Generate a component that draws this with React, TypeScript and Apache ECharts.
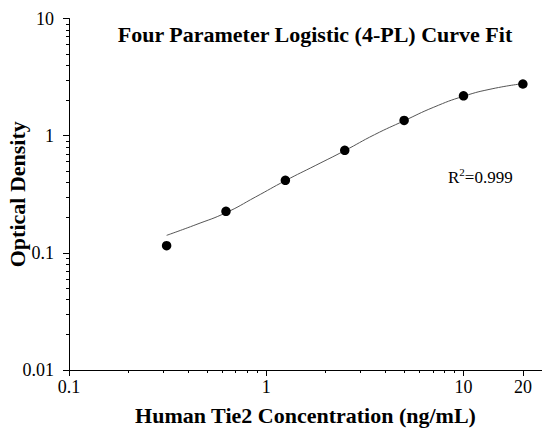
import React, { useEffect, useRef } from "react";
import * as echarts from "echarts";

const concentrations = [0.3125, 0.625, 1.25, 2.5, 5, 10, 20];
const opticalDensity = [0.115, 0.226, 0.416, 0.749, 1.35, 2.19, 2.76];

const curveX = [0.3125, 0.44, 0.625, 0.88, 1.25, 1.77, 2.5, 3.54, 5, 7.07, 10, 14.1, 20];
const curveY = [0.141, 0.174, 0.22, 0.299, 0.413, 0.555, 0.745, 1.02, 1.34, 1.75, 2.17, 2.52, 2.78];

const xMajorTicks = [0.1, 1, 10, 20];
const xMinorTicks = [0.2, 0.3, 0.4, 0.5, 0.6, 0.7, 0.8, 0.9, 2, 3, 4, 5, 6, 7, 8, 9];
const yMajorTicks = [0.01, 0.1, 1, 10];
const yMinorTicks = [
  0.02, 0.03, 0.04, 0.05, 0.06, 0.07, 0.08, 0.09,
  0.2, 0.3, 0.4, 0.5, 0.6, 0.7, 0.8, 0.9,
  2, 3, 4, 5, 6, 7, 8, 9,
];

const titleText = "Four Parameter Logistic (4-PL) Curve Fit";
const xName = "Human Tie2 Concentration (ng/mL)";
const yName = "Optical Density";

const SERIF = "'Liberation Serif', 'Times New Roman', serif";

export default function App() {
  const ref = useRef<HTMLDivElement>(null);
  useEffect(() => {
    document.body.style.margin = "0";
    if (!ref.current) return;
    const chart = echarts.init(ref.current, null, { renderer: "svg" });
    const fmt = (v: number) => {
      const r = Math.round(v * 1000) / 1000;
      return String(r);
    };
    const axisCommon = {
      type: "log" as const,
      logBase: 10,
      splitLine: { show: false },
      minorSplitLine: { show: false },
    };
    chart.setOption({
      animation: false,
      backgroundColor: "#ffffff",
      grid: {
        left: 69,
        right: 0,
        top: 18.5,
        bottom: 58,
        containLabel: false,
        outerBoundsMode: "none",
      },
      xAxis: [
        {
          ...axisCommon,
          min: 0.1,
          max: 25,
          position: "bottom",
          axisLine: { show: true, lineStyle: { color: "#000", width: 1 } },
          axisTick: {
            show: true,
            inside: false,
            length: 6,
            customValues: xMajorTicks,
            lineStyle: { color: "#000", width: 1 },
          },
          axisLabel: {
            show: true,
            customValues: xMajorTicks,
            formatter: fmt,
            color: "#000",
            fontFamily: SERIF,
            fontSize: 18,
            margin: 8,
          },
          name: xName,
          nameLocation: "middle",
          nameGap: 34,
          nameMoveOverlap: false,
          nameTextStyle: {
            color: "#000",
            fontFamily: SERIF,
            fontWeight: "bold",
            fontSize: 22,
          },
        },
        {
          ...axisCommon,
          min: 0.1,
          max: 25,
          position: "bottom",
          offset: 0,
          axisLine: { show: false },
          axisTick: {
            show: true,
            inside: false,
            length: 3,
            customValues: xMinorTicks,
            lineStyle: { color: "#000", width: 1 },
          },
          axisLabel: { show: false },
        },
      ],
      yAxis: [
        {
          ...axisCommon,
          min: 0.01,
          max: 10,
          position: "left",
          axisLine: { show: true, lineStyle: { color: "#000", width: 1 } },
          axisTick: {
            show: true,
            inside: false,
            length: 6,
            customValues: yMajorTicks,
            lineStyle: { color: "#000", width: 1 },
          },
          axisLabel: {
            show: true,
            customValues: yMajorTicks,
            formatter: fmt,
            color: "#000",
            fontFamily: SERIF,
            fontSize: 18,
            margin: 15,
          },
          name: yName,
          nameLocation: "middle",
          nameGap: 41,
          nameMoveOverlap: false,
          nameTextStyle: {
            color: "#000",
            fontFamily: SERIF,
            fontWeight: "bold",
            fontSize: 22,
          },
        },
        {
          ...axisCommon,
          min: 0.01,
          max: 10,
          position: "left",
          offset: 0,
          axisLine: { show: false },
          axisTick: {
            show: true,
            inside: false,
            length: 3,
            customValues: yMinorTicks,
            lineStyle: { color: "#000", width: 1 },
          },
          axisLabel: { show: false },
        },
      ],
      graphic: [
        {
          type: "text",
          x: 315,
          y: 34,
          style: {
            text: titleText,
            textAlign: "center",
            textVerticalAlign: "middle",
            fontFamily: SERIF,
            fontWeight: "bold",
            fontSize: 22,
            fill: "#000",
          },
        },
        {
          type: "text",
          x: 448,
          y: 176,
          style: {
            text: "{r|R}{s|2}{r|=0.999}",
            textVerticalAlign: "middle",
            rich: {
              r: { fontFamily: SERIF, fontSize: 17, fill: "#000", lineHeight: 20, verticalAlign: "bottom" },
              s: { fontFamily: SERIF, fontSize: 11, fill: "#000", lineHeight: 20, verticalAlign: "top" },
            },
          },
        },
      ],
      series: [
        {
          type: "line",
          xAxisIndex: 0,
          yAxisIndex: 0,
          data: curveX.map((x, i) => [x, curveY[i]]),
          smooth: true,
          showSymbol: false,
          symbol: "none",
          lineStyle: { color: "#555", width: 1 },
          z: 2,
        },
        {
          type: "scatter",
          xAxisIndex: 0,
          yAxisIndex: 0,
          data: concentrations.map((x, i) => [x, opticalDensity[i]]),
          symbol: "circle",
          symbolSize: 9.5,
          itemStyle: { color: "#000", opacity: 1 },
          z: 3,
        },
      ],
    });
    return () => chart.dispose();
  }, []);
  return <div ref={ref} style={{ width: 542, height: 428 }} />;
}
